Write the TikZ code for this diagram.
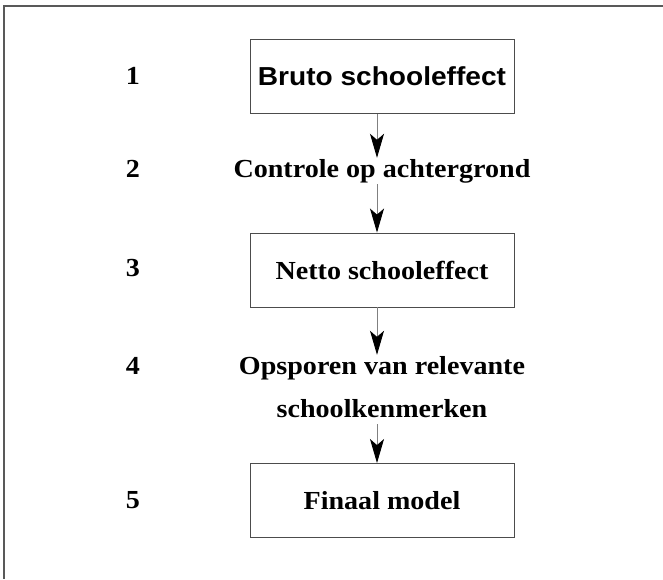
\documentclass[tikz,border=0pt]{standalone}
\usepackage{fontspec}
\setmainfont{Liberation Serif}[FakeStretch=1.08]
\newfontfamily\hsans{Liberation Sans}[FakeStretch=1.08]
\usetikzlibrary{arrows.meta}
\definecolor{framec}{gray}{0.35}
\definecolor{boxc}{gray}{0.3}
\definecolor{shaftc}{gray}{0.5}
\tikzset{
  stepbox/.style={draw=boxc, line width=0.9pt, minimum width=264pt, minimum height=74pt, inner sep=0pt,
     font=\fontsize{26}{30}\selectfont\bfseries},
  plaintext/.style={inner sep=0pt, text height=19pt, text depth=7pt, anchor=base,
     font=\fontsize{26}{30}\selectfont\bfseries},
  numlabel/.style={inner sep=0pt, font=\fontsize{26}{30}\selectfont\bfseries},
  flow/.style={draw=shaftc, line width=0.9pt,
     -{Stealth[length=24pt,width=14pt,inset=6pt,color=black]}},
}
\begin{document}
\begin{tikzpicture}[x=1pt,y=-1pt]
\useasboundingbox (0,0) rectangle (663,579);
% frame (cropped: top and left sides only)
\coordinate (ftl) at (4,6);
\coordinate (ftr) at (663,6);
\coordinate (fbl) at (4,579);
\draw[framec, line width=1.3pt] (ftr) -- (ftl) -- (fbl);
% axis of the arrows
\coordinate (ax) at (377,0);
% boxes and texts
\node[stepbox, font=\fontsize{26}{30}\selectfont\hsans\bfseries] (b1) at (382,76.5) {Bruto schooleffect};
\node[plaintext] (c2) at (382,177) {Controle op achtergrond};
\node[stepbox] (b3) at (382,270) {Netto schooleffect};
\node[plaintext] (o4a) at (382,374) {Opsporen van relevante};
\node[plaintext] (o4b) at (382,417) {schoolkenmerken};
\node[stepbox] (b5) at (382,500.5) {Finaal model};
% numbers
\node[numlabel] (n1) at (133,76) {1};
\node[numlabel] (n2) at (133,169) {2};
\node[numlabel] (n3) at (133,268) {3};
\node[numlabel] (n4) at (133,366) {4};
\node[numlabel] (n5) at (133,500) {5};
% arrows
\draw[flow] (b1.south -| ax) -- (c2.north -| ax);
\draw[flow] (c2.south -| ax) -- (b3.north -| ax);
\draw[flow] (b3.south -| ax) -- (o4a.north -| ax);
\draw[flow] (o4b.south -| ax) -- (b5.north -| ax);
\end{tikzpicture}
\end{document}
